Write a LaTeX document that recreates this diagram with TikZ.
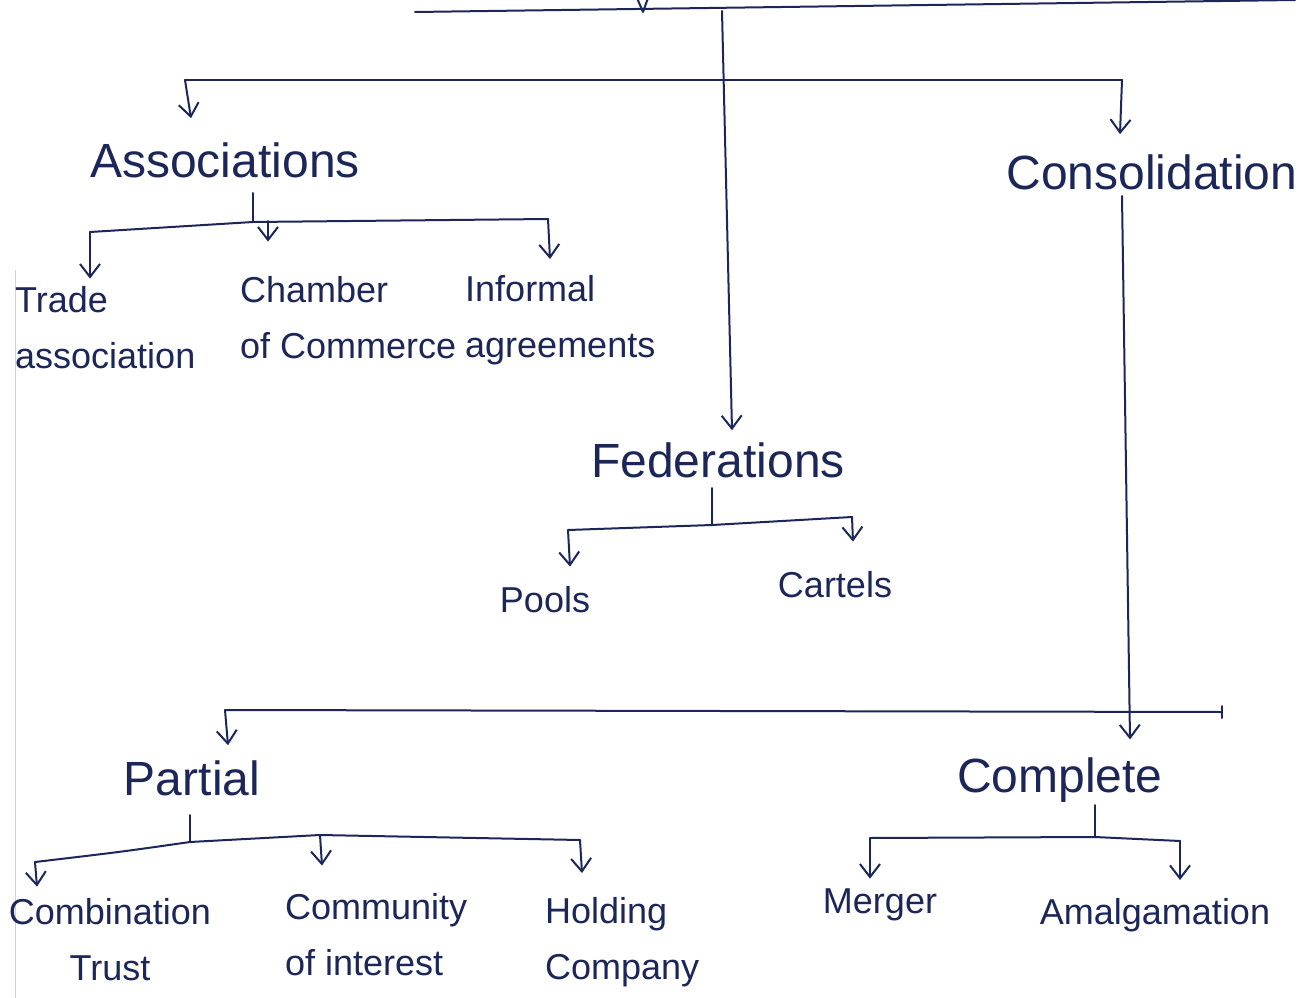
\documentclass[tikz,border=0pt]{standalone}
\usepackage{fontspec}
\setmainfont{Liberation Sans}
\usetikzlibrary{arrows.meta,calc}
\definecolor{ink}{RGB}{28,38,88}
\begin{document}
\begin{tikzpicture}[x=1pt,y=-1pt,
  conn/.style={draw=ink, line width=2pt, line cap=round, line join=round},
  arr/.style={conn,-{Straight Barb[length=13pt,width=20pt]}},
  big/.style={text=ink, font=\fontsize{48}{50}\selectfont, inner sep=0pt},
  leaf/.style={text=ink, font=\fontsize{36}{56}\selectfont, inner sep=0pt, align=left},
  leafc/.style={leaf, align=center}]
\path[use as bounding box] (0,0) rectangle (1315,998);
\fill[white] (0,0) rectangle (1315,998);
% faint paper margin
\draw[black!18, line width=1pt] (15,270) -- (15,998);

% main nodes
\node[big] (assoc) at (225,160) {Associations};
\node[big] (consol) at (1152,172) {Consolidation};
\node[big] (fed) at (718,460) {Federations};
\node[big] (partial) at (192,778) {Partial};
\node[big] (complete) at (1060,780) {Complete};

% leaves
\node[leaf, anchor=west] (trade) at (15,328) {Trade\\association};
\node[leaf, anchor=west] (chamber) at (240,318) {Chamber\\of Commerce};
\node[leaf, anchor=west] (informal) at (465,320) {Informal\\agreements};
\node[leaf] (pools) at (545,600) {Pools};
\node[leaf] (cartels) at (835,585) {Cartels};
\node[leafc] (comb) at (110,940) {Combination\\Trust};
\node[leaf, anchor=west] (commun) at (285,935) {Community\\of interest};
\node[leaf, anchor=west] (holding) at (545,942) {Holding\\Company};
\node[leaf] (merger) at (880,905) {Merger};
\node[leaf] (amalg) at (1155,915) {Amalgamation};

% junction coordinates
\coordinate (t1) at (415,12);
\coordinate (t2) at (1295,0);
\coordinate (j0) at (722,11);
\coordinate (h1l) at (185,80);
\coordinate (h1r) at (1122,80);
\coordinate (as0) at (253,193);
\coordinate (as1) at (253,222);
\coordinate (asl) at (90,232);
\coordinate (asm) at (268,221);
\coordinate (asr) at (548,219);
\coordinate (fd0) at (712,488);
\coordinate (fd1) at (712,525);
\coordinate (fdl) at (568,530);
\coordinate (fdr) at (852,517);
\coordinate (cs0) at (1122,196);
\coordinate (bl) at (225,710);
\coordinate (br) at (1222,712);
\coordinate (pt0) at (190,815);
\coordinate (pt1) at (190,842);
\coordinate (ptl) at (35,862);
\coordinate (ptm) at (320,835);
\coordinate (ptr) at (580,840);
\coordinate (cp0) at (1095,805);
\coordinate (cp1) at (1095,837);
\coordinate (cpl) at (870,838);
\coordinate (cpr) at (1180,841);

% top
\draw[conn] (t1) -- (t2);
\draw[conn] (637,-2) -- (643,12) -- (648,-2);
\draw[arr] (j0) -- ($(fed.north)+(14,-12)$);

% first level
\draw[conn] (h1l) -- (h1r);
\draw[arr] (h1l) -- ($(assoc.north)+(-34,-24)$);
\draw[arr] (h1r) -- ($(consol.north)+(-32,-20)$);

% associations
\draw[conn] (as0) -- (as1);
\draw[conn] (asl) -- (as1) -- (asr);
\draw[arr] (asl) -- ($(trade.north west)+(75,-8)$);
\draw[arr] (asm) -- ($(chamber.north west)+(28,-35)$);
\draw[arr] (asr) -- ($(informal.north west)+(85,-16)$);

% federations
\draw[conn] (fd0) -- (fd1);
\draw[conn] (fdl) -- (fd1) -- (fdr);
\draw[arr] (fdl) -- ($(pools.north)+(25,-20)$);
\draw[arr] (fdr) -- ($(cartels.north)+(18,-30)$);

% consolidation
\draw[conn] (bl) -- (br);
\draw[conn] ($(br)+(0,-6)$) -- ($(br)+(0,6)$);
\draw[arr] (cs0) -- ($(complete.north)+(70,-18)$);
\draw[arr] (bl) -- ($(partial.north)+(36,-15)$);

% partial
\draw[conn] (pt0) -- (pt1);
\draw[conn] (ptl) .. controls (120,852) .. (pt1) -- (ptm) -- (ptr);
\draw[arr] (ptl) -- ($(comb.north)+(-73,-12)$);
\draw[arr] (ptm) -- ($(commun.north west)+(37,-28)$);
\draw[arr] (ptr) -- ($(holding.north west)+(37,-24)$);

% complete
\draw[conn] (cp0) -- (cp1);
\draw[conn] (cpl) -- (cp1) -- (cpr);
\draw[arr] (cpl) -- ($(merger.north)+(-10,-10)$);
\draw[arr] (cpr) -- ($(amalg.north)+(25,-18)$);
\end{tikzpicture}
\end{document}
